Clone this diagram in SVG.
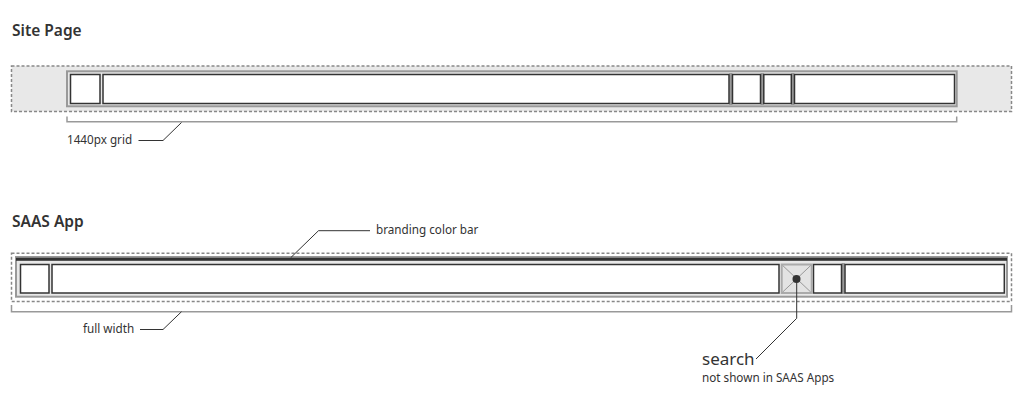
<svg xmlns="http://www.w3.org/2000/svg" width="1024" height="400" viewBox="0 0 1024 400">
<style>
.title{font-family:"Noto Sans",Lato,sans-serif;font-size:15.5px;font-weight:600;fill:#333}
.lbl{font-family:"Noto Sans",Lato,sans-serif;font-size:11.7px;fill:#333}
.big{font-family:"Noto Sans",Lato,sans-serif;font-size:17px;fill:#333}
.dash{stroke:#888;stroke-width:1.5;stroke-dasharray:3 2}
.cont{fill:#e8e8e8;stroke:#999;stroke-width:2}
.box{fill:#fff;stroke:#333;stroke-width:1.5}
.sep{fill:#999}
.brk{fill:none;stroke:#999;stroke-width:1.5}
.lead{fill:none;stroke:#333;stroke-width:1}
</style>
<rect width="1024" height="400" fill="#fff"/>
<g id="site-page">
<text class="title" x="12" y="36">Site Page</text>
<rect class="dash" x="11.5" y="66" width="1000" height="45.5" fill="#e8e8e8"/>
<rect class="cont" x="67" y="71.3" width="889.7" height="35"/>
<rect class="sep" x="729.3" y="73" width="3" height="32"/>
<rect class="sep" x="760.7" y="73" width="3" height="32"/>
<rect class="sep" x="791.3" y="73" width="3" height="32"/>
<rect class="box" x="70.5" y="74.5" width="29.5" height="29"/>
<rect class="box" x="103" y="74.5" width="626" height="29"/>
<rect class="box" x="732.5" y="74.5" width="28" height="29"/>
<rect class="box" x="763.8" y="74.5" width="27.5" height="29"/>
<rect class="box" x="794.5" y="74.5" width="160" height="29"/>
</g>
<g id="saas-app">
<text class="title" x="12" y="226.5">SAAS App</text>
<rect class="dash" x="11.5" y="253.3" width="1000" height="48.2" fill="#fff"/>
<rect class="cont" x="16" y="257" width="991" height="39.7"/>
<rect x="16" y="257.8" width="991" height="3" fill="#333"/>
<rect class="sep" x="841.7" y="263" width="3" height="31"/>
<rect class="box" x="20.5" y="264.5" width="28.5" height="28.5"/>
<rect class="box" x="52" y="264.5" width="727" height="28.5"/>
<rect class="box" x="813.5" y="264.5" width="28" height="28.5"/>
<rect class="box" x="845" y="264.5" width="159.3" height="28.5"/>
</g>
<g id="search">
<rect x="781.7" y="264.5" width="30" height="28.5" fill="#e3e3e3" stroke="#aaa" stroke-width="2"/>
<path d="M782.7 265.5L810.7 292M810.7 265.5L782.7 292" stroke="#999" stroke-width="1"/>
<circle cx="796.5" cy="279" r="4" fill="#333"/>
</g>
<g id="connectors">
<path class="brk" d="M67 116.5V121.7H956.7V116.5"/>
<path class="lead" d="M138.5 140.5H163L181.5 122.5"/>
<path class="brk" d="M11.5 305V311.7H1011.5V305"/>
<path class="lead" d="M140 329.5H163L181.5 311.7"/>
<path class="lead" d="M370 230.7H318.5L290.7 257.7"/>
<path class="lead" d="M796.7 279V318.3L756 359"/>
</g>
<g id="labels">
<text class="lbl" x="67" y="144">1440px grid</text>
<text class="lbl" x="83" y="333">full width</text>
<text class="lbl" x="376" y="234">branding color bar</text>
<text class="big" x="702" y="365">search</text>
<text class="lbl" x="702" y="382">not shown in SAAS Apps</text>
</g>
</svg>
